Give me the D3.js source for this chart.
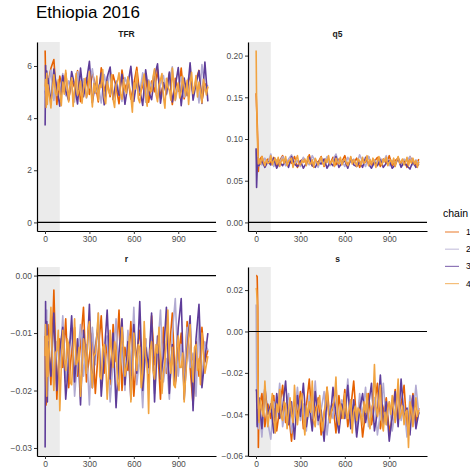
<!DOCTYPE html>
<html>
<head>
<meta charset="utf-8">
<script src="https://cdn.jsdelivr.net/npm/d3@7"></script>
<style>
  body { margin: 0; background: #fff; }
  svg { font-family: "Liberation Sans", Arial, sans-serif; }
</style>
</head>
<body>
<div id="dataviz"></div>
<script>
// iterations at which chains 1-3 are sampled
var iterations = [1, 4, 8, 12, 16, 20, 40, 60, 80, 100, 120, 140, 160, 180, 200, 220, 240, 260, 280, 300,
  320, 340, 360, 380, 400, 420, 440, 460, 480, 500, 520, 540, 560, 580, 600, 620, 640, 660, 680, 700,
  720, 740, 760, 780, 800, 820, 840, 860, 880, 900, 920, 940, 960, 980, 1000, 1020, 1040, 1060, 1080, 1100];
// chain 4 (drawn on top) is read on a finer grid: every 10 iterations
var iterationsFine = [1, 4, 8, 12, 16].concat(d3.range(20, 1101, 10));

var chainNames = ["1", "2", "3", "4"];
var chainColors = ["#E66101", "#B2ABD2", "#5E3C99", "#F1A340"];
var burnIn = 100;
var xTicks = [0, 300, 600, 900];

// TFR
var tfr1 = [6.59, 5.62, 5.05, 5.41, 4.83, 5.33, 5.91, 6.25, 4.52, 5.61,
  5.02, 5.73, 4.71, 5.44, 5.18, 5.82, 4.63, 5.12, 5.55, 4.91,
  5.74, 5.29, 4.62, 5.93, 5.04, 5.41, 4.82, 5.66, 5.21, 4.55,
  5.84, 5.09, 5.52, 4.73, 5.31, 5.95, 4.88, 5.24, 5.63, 4.61,
  5.42, 5.01, 5.86, 4.79, 5.34, 5.12, 5.71, 4.52, 5.53, 5.03,
  5.92, 4.74, 5.21, 5.64, 4.93, 5.45, 5.83, 4.66, 5.32, 5.14];
var tfr2 = [5.05, 4.92, 5.48, 4.71, 5.62, 5.11, 5.84, 4.68, 5.37, 5.02,
  5.71, 4.86, 5.43, 5.19, 4.62, 5.78, 5.06, 5.51, 4.77, 5.35,
  5.89, 4.95, 5.26, 4.58, 5.67, 5.13, 5.81, 4.72, 5.44, 5.08,
  4.64, 5.56, 5.22, 5.91, 4.83, 5.38, 4.99, 5.74, 4.61, 5.47,
  5.16, 5.85, 4.76, 5.29, 5.63, 4.89, 5.42, 5.97, 4.67, 5.24,
  5.58, 4.81, 5.33, 5.76, 4.94, 5.49, 4.58, 6.05, 5.12, 5.27];
var tfr3 = [3.72, 6.02, 4.65, 5.81, 4.91, 5.52, 4.58, 5.88, 5.14, 4.46,
  5.63, 5.04, 4.68, 5.79, 5.26, 4.54, 5.92, 4.82, 5.41, 6.18,
  4.59, 5.33, 4.98, 5.73, 4.51, 5.57, 5.96, 4.72, 5.38, 4.87,
  5.68, 4.53, 5.29, 5.99, 4.64, 5.46, 5.11, 4.49, 5.85, 5.02,
  4.71, 5.61, 6.08, 4.57, 5.36, 4.93, 5.77, 4.62, 5.22, 5.94,
  4.48, 5.54, 4.86, 6.12, 4.69, 5.31, 5.82, 4.56, 6.15, 4.64];
var tfr4 = [5.21, 5.48, 4.41, 5.72, 4.52,
  5.28, 4.85, 4.39, 5.12, 5.66, 4.95, 4.86, 5.47, 5.02, 4.48,
  5.38, 4.92, 5.83, 5.21, 4.62, 5.24, 5.55, 4.45, 5.09, 5.71,
  4.88, 5.08, 5.42, 4.57, 5.16, 5.52, 4.79, 4.96, 5.79, 5.11,
  4.43, 5.34, 4.98, 5.61, 4.68, 5.27, 5.18, 5.86, 4.81, 4.55,
  5.41, 5.03, 4.89, 5.67, 4.72, 4.41, 5.28, 5.44, 5.74, 4.93,
  4.73, 5.47, 5.09, 4.96, 5.58, 5.22, 4.84, 4.23, 5.36, 5.12,
  5.81, 4.75, 4.59, 5.15, 5.39, 5.69, 4.87, 4.46, 5.42, 5.06,
  5.02, 5.58, 5.89, 4.91, 4.63, 5.26, 5.47, 5.71, 4.82, 4.38,
  5.53, 5.19, 5.07, 4.69, 5.92, 5.33, 4.69, 5.08, 5.35, 4.77,
  5.02, 5.61, 5.22, 4.86, 5.45, 4.52, 5.29, 5.76, 4.94, 5.17,
  5.63, 4.81, 5.38, 5.04, 4.58, 5.49, 5.21, 4.89, 5.22];

// q5
var q5_1 = [0.155, 0.138, 0.121, 0.098, 0.061, 0.074, 0.079, 0.068, 0.076, 0.071,
  0.078, 0.067, 0.074, 0.080, 0.069, 0.075, 0.071, 0.079, 0.066, 0.073,
  0.077, 0.070, 0.081, 0.068, 0.074, 0.072, 0.079, 0.067, 0.075, 0.070,
  0.078, 0.069, 0.076, 0.073, 0.080, 0.068, 0.074, 0.071, 0.077, 0.066,
  0.075, 0.072, 0.079, 0.069, 0.073, 0.078, 0.067, 0.076, 0.071, 0.080,
  0.068, 0.074, 0.077, 0.070, 0.075, 0.066, 0.079, 0.072, 0.069, 0.076];
var q5_2 = [0.088, 0.076, 0.070, 0.079, 0.068, 0.073, 0.069, 0.077, 0.071, 0.082,
  0.067, 0.075, 0.072, 0.079, 0.068, 0.076, 0.081, 0.070, 0.074, 0.067,
  0.078, 0.072, 0.069, 0.080, 0.073, 0.066, 0.077, 0.071, 0.079, 0.068,
  0.075, 0.082, 0.070, 0.074, 0.067, 0.078, 0.072, 0.076, 0.069, 0.081,
  0.073, 0.067, 0.079, 0.071, 0.075, 0.069, 0.077, 0.072, 0.080, 0.068,
  0.074, 0.070, 0.078, 0.067, 0.076, 0.073, 0.079, 0.069, 0.075, 0.071];
var q5_3 = [0.089, 0.042, 0.063, 0.078, 0.071, 0.068, 0.074, 0.066, 0.073, 0.069,
  0.077, 0.065, 0.072, 0.068, 0.075, 0.066, 0.079, 0.070, 0.067, 0.074,
  0.065, 0.071, 0.078, 0.068, 0.066, 0.073, 0.070, 0.076, 0.065, 0.072,
  0.068, 0.079, 0.066, 0.071, 0.074, 0.065, 0.077, 0.069, 0.067, 0.073,
  0.066, 0.078, 0.070, 0.065, 0.072, 0.068, 0.075, 0.066, 0.071, 0.074,
  0.065, 0.069, 0.077, 0.066, 0.072, 0.068, 0.064, 0.073, 0.066, 0.070];
var q5_4 = [0.206, 0.148, 0.112, 0.084, 0.070,
  0.076, 0.070, 0.079, 0.073, 0.068, 0.075, 0.071, 0.072, 0.080, 0.069,
  0.074, 0.077, 0.070, 0.078, 0.067, 0.073, 0.076, 0.071, 0.079, 0.068,
  0.073, 0.075, 0.077, 0.066, 0.072, 0.075, 0.080, 0.070, 0.069, 0.074,
  0.072, 0.076, 0.068, 0.079, 0.071, 0.070, 0.075, 0.066, 0.077, 0.073,
  0.069, 0.074, 0.078, 0.071, 0.068, 0.076, 0.072, 0.080, 0.070, 0.073,
  0.075, 0.067, 0.077, 0.072, 0.070, 0.078, 0.069, 0.074, 0.076, 0.071,
  0.068, 0.073, 0.079, 0.070, 0.075, 0.072, 0.067, 0.076, 0.074, 0.069,
  0.078, 0.071, 0.073, 0.080, 0.068, 0.075, 0.070, 0.077, 0.072, 0.066,
  0.074, 0.079, 0.071, 0.069, 0.076, 0.073, 0.078, 0.068, 0.072, 0.075,
  0.070, 0.077, 0.067, 0.074, 0.079, 0.071, 0.073, 0.076, 0.069, 0.072,
  0.078, 0.068, 0.075, 0.071, 0.077, 0.070, 0.074, 0.066, 0.073];

// r
var r1 = [-0.0105, -0.0180, -0.0225, -0.0120, -0.0165, -0.0085, -0.0190, -0.0025, -0.0215, -0.0110,
  -0.0160, -0.0075, -0.0195, -0.0130, -0.0090, -0.0175, -0.0120, -0.0055, -0.0185, -0.0140,
  -0.0100, -0.0205, -0.0130, -0.0070, -0.0170, -0.0115, -0.0190, -0.0085, -0.0150, -0.0060,
  -0.0200, -0.0125, -0.0165, -0.0080, -0.0210, -0.0135, -0.0095, -0.0180, -0.0110, -0.0195,
  -0.0070, -0.0155, -0.0120, -0.0215, -0.0090, -0.0170, -0.0130, -0.0065, -0.0190, -0.0145,
  -0.0100, -0.0185, -0.0080, -0.0160, -0.0225, -0.0115, -0.0175, -0.0090, -0.0150, -0.0130];
var r2 = [-0.0125, -0.0100, -0.0175, -0.0060, -0.0200, -0.0135, -0.0080, -0.0190, -0.0115, -0.0160,
  -0.0070, -0.0185, -0.0130, -0.0095, -0.0210, -0.0145, -0.0085, -0.0175, -0.0120, -0.0225,
  -0.0090, -0.0155, -0.0065, -0.0195, -0.0135, -0.0105, -0.0220, -0.0150, -0.0075, -0.0180,
  -0.0125, -0.0200, -0.0095, -0.0165, -0.0055, -0.0190, -0.0140, -0.0230, -0.0110, -0.0170,
  -0.0085, -0.0205, -0.0130, -0.0060, -0.0185, -0.0145, -0.0215, -0.0100, -0.0040, -0.0175,
  -0.0120, -0.0195, -0.0090, -0.0160, -0.0135, -0.0210, -0.0075, -0.0180, -0.0115, -0.0130];
var r3 = [-0.0299, -0.0045, -0.0190, -0.0080, -0.0220, -0.0115, -0.0175, -0.0065, -0.0200, -0.0130,
  -0.0090, -0.0215, -0.0150, -0.0070, -0.0185, -0.0110, -0.0225, -0.0095, -0.0160, -0.0050,
  -0.0195, -0.0125, -0.0085, -0.0210, -0.0140, -0.0060, -0.0180, -0.0100, -0.0230, -0.0135,
  -0.0075, -0.0190, -0.0115, -0.0215, -0.0085, -0.0170, -0.0045, -0.0200, -0.0125, -0.0160,
  -0.0065, -0.0220, -0.0105, -0.0180, -0.0140, -0.0055, -0.0205, -0.0120, -0.0185, -0.0090,
  -0.0040, -0.0215, -0.0130, -0.0070, -0.0235, -0.0110, -0.0050, -0.0195, -0.0145, -0.0100];
var r4 = [-0.0140, -0.0085, -0.0160, -0.0210, -0.0105,
  -0.0175, -0.0120, -0.0055, -0.0150, -0.0200, -0.0135, -0.0130, -0.0095, -0.0235, -0.0160,
  -0.0095, -0.0145, -0.0165, -0.0110, -0.0120, -0.0185, -0.0190, -0.0140, -0.0075, -0.0155,
  -0.0150, -0.0125, -0.0210, -0.0165, -0.0110, -0.0130, -0.0170, -0.0095, -0.0080, -0.0160,
  -0.0195, -0.0140, -0.0135, -0.0105, -0.0065, -0.0175, -0.0180, -0.0125, -0.0120, -0.0150,
  -0.0215, -0.0170, -0.0095, -0.0135, -0.0160, -0.0115, -0.0130, -0.0185, -0.0200, -0.0140,
  -0.0090, -0.0125, -0.0175, -0.0160, -0.0145, -0.0105, -0.0220, -0.0175, -0.0100, -0.0135,
  -0.0165, -0.0120, -0.0125, -0.0195, -0.0170, -0.0080, -0.0140, -0.0155, -0.0240, -0.0130,
  -0.0115, -0.0165, -0.0180, -0.0120, -0.0135, -0.0090, -0.0150, -0.0205, -0.0170, -0.0150,
  -0.0115, -0.0060, -0.0145, -0.0170, -0.0125, -0.0190, -0.0195, -0.0130, -0.0105, -0.0160,
  -0.0160, -0.0135, -0.0220, -0.0175, -0.0140, -0.0110, -0.0085, -0.0150, -0.0185, -0.0125,
  -0.0120, -0.0165, -0.0145, -0.0190, -0.0100, -0.0135, -0.0170, -0.0155, -0.0140];

// s
var s1 = [0.0270, 0.0270, 0.0265, 0.0120, -0.0560, -0.0380, -0.0300, -0.0460, -0.0350, -0.0420,
  -0.0310, -0.0480, -0.0370, -0.0260, -0.0440, -0.0390, -0.0530, -0.0330, -0.0410, -0.0290,
  -0.0470, -0.0360, -0.0230, -0.0450, -0.0380, -0.0320, -0.0500, -0.0400, -0.0270, -0.0430,
  -0.0350, -0.0490, -0.0310, -0.0420, -0.0280, -0.0460, -0.0370, -0.0240, -0.0440, -0.0330,
  -0.0510, -0.0390, -0.0300, -0.0450, -0.0360, -0.0250, -0.0470, -0.0380, -0.0320, -0.0490,
  -0.0410, -0.0280, -0.0430, -0.0350, -0.0260, -0.0480, -0.0400, -0.0300, -0.0440, -0.0370];
var s2 = [0.0130, -0.0200, -0.0450, -0.0330, -0.0470, -0.0360, -0.0510, -0.0280, -0.0440, -0.0520,
  -0.0340, -0.0410, -0.0250, -0.0460, -0.0370, -0.0300, -0.0490, -0.0400, -0.0270, -0.0430,
  -0.0350, -0.0480, -0.0310, -0.0420, -0.0240, -0.0450, -0.0380, -0.0290, -0.0500, -0.0360,
  -0.0420, -0.0260, -0.0470, -0.0330, -0.0400, -0.0230, -0.0440, -0.0350, -0.0490, -0.0300,
  -0.0410, -0.0270, -0.0460, -0.0370, -0.0320, -0.0500, -0.0390, -0.0250, -0.0450, -0.0340,
  -0.0480, -0.0380, -0.0290, -0.0430, -0.0360, -0.0510, -0.0310, -0.0420, -0.0260, -0.0400];
var s3 = [-0.0280, -0.0290, -0.0460, -0.0380, -0.0430, -0.0320, -0.0470, -0.0270, -0.0400, -0.0350,
  -0.0490, -0.0300, -0.0420, -0.0370, -0.0240, -0.0450, -0.0340, -0.0520, -0.0310, -0.0410,
  -0.0250, -0.0460, -0.0360, -0.0480, -0.0290, -0.0430, -0.0380, -0.0530, -0.0320, -0.0440,
  -0.0270, -0.0400, -0.0490, -0.0350, -0.0420, -0.0260, -0.0470, -0.0330, -0.0510, -0.0380,
  -0.0300, -0.0440, -0.0360, -0.0250, -0.0480, -0.0390, -0.0210, -0.0450, -0.0340, -0.0530,
  -0.0410, -0.0290, -0.0460, -0.0230, -0.0420, -0.0370, -0.0500, -0.0310, -0.0470, -0.0390];
var s4 = [0.0210, 0.0200, 0.0150, -0.0200, -0.0350,
  -0.0440, -0.0330, -0.0380, -0.0410, -0.0240, -0.0360, -0.0460, -0.0390, -0.0370, -0.0300,
  -0.0420, -0.0490, -0.0350, -0.0390, -0.0280, -0.0410, -0.0430, -0.0340, -0.0350, -0.0470,
  -0.0380, -0.0320, -0.0400, -0.0440, -0.0260, -0.0370, -0.0450, -0.0380, -0.0330, -0.0300,
  -0.0420, -0.0500, -0.0360, -0.0410, -0.0340, -0.0390, -0.0240, -0.0430, -0.0460, -0.0370,
  -0.0350, -0.0310, -0.0420, -0.0480, -0.0390, -0.0360, -0.0270, -0.0400, -0.0440, -0.0380,
  -0.0360, -0.0330, -0.0220, -0.0410, -0.0450, -0.0350, -0.0380, -0.0420, -0.0300, -0.0400,
  -0.0420, -0.0370, -0.0330, -0.0490, -0.0390, -0.0360, -0.0430, -0.0370, -0.0380, -0.0410,
  -0.0450, -0.0340, -0.0390, -0.0300, -0.0420, -0.0470, -0.0380, -0.0350, -0.0160, -0.0360,
  -0.0410, -0.0330, -0.0260, -0.0440, -0.0480, -0.0390, -0.0450, -0.0370, -0.0340, -0.0400,
  -0.0310, -0.0380, -0.0440, -0.0350, -0.0230, -0.0420, -0.0400, -0.0360, -0.0450, -0.0390,
  -0.0380, -0.0560, -0.0340, -0.0370, -0.0460, -0.0390, -0.0320, -0.0410, -0.0380];

var yTicksTFR = [0, 2, 4, 6];
var yTicksQ5 = [0, 0.05, 0.10, 0.15, 0.20];
var yTicksR = [0, -0.01, -0.02, -0.03];
var yTicksS = [0.02, 0, -0.02, -0.04, -0.06];

buildChart();

function buildChart(){
    d3.selectAll('svg').remove();

    var W = 470, H = 472;
    var svg = d3.select("#dataviz")
    .append("svg")
        .attr("width", W)
        .attr("height", H);

    // title
    svg.append("text")
        .attr("x", 36)
        .attr("y", 18)
        .text("Ethiopia 2016")
        .style("font-size", "17px")
        .style("fill", "#000");

    var chainIters = [iterations, iterations, iterations, iterationsFine];

    // facet layout
    var panels = [
        {name: "TFR", chains: [tfr1, tfr2, tfr3, tfr4], ticks: yTicksTFR, fmt: d3.format("d"), left: 37, top: 42},
        {name: "q5", chains: [q5_1, q5_2, q5_3, q5_4], ticks: yTicksQ5, fmt: d3.format(".2f"), left: 248, top: 42},
        {name: "r", chains: [r1, r2, r3, r4], ticks: yTicksR, fmt: d3.format(".2f"), left: 37, top: 267},
        {name: "s", chains: [s1, s2, s3, s4], ticks: yTicksS, fmt: d3.format(".2f"), left: 248, top: 267}
    ];
    var pw = 179, ph = 189;

    var xExt = d3.extent(iterations);
    var xPad = (xExt[1] - xExt[0]) * 0.05;
    var x = d3.scaleLinear()
        .domain([xExt[0] - xPad, xExt[1] + xPad])
        .range([0, pw]);

    panels.forEach(function(p){
        var g = svg.append("g")
            .attr("transform", "translate(" + p.left + "," + p.top + ")");

        var all = [0];
        p.chains.forEach(function(c){ all = all.concat(c); });
        var yExt = d3.extent(all);
        var yPad = (yExt[1] - yExt[0]) * 0.05;
        var y = d3.scaleLinear()
            .domain([yExt[0] - yPad, yExt[1] + yPad])
            .range([ph, 0]);

        // burn-in shading
        g.append("rect")
            .attr("x", 0)
            .attr("y", 0)
            .attr("width", x(burnIn))
            .attr("height", ph)
            .attr("fill", "#EBEBEB");

        // chains
        var line = d3.line()
            .x(function(d){ return x(d[0]); })
            .y(function(d){ return y(d[1]); });

        p.chains.forEach(function(c, i){
            var its = chainIters[i];
            var pts = c.map(function(v, k){ return [its[k], v]; })
                .filter(function(d){ return d[0] !== undefined; });
            g.append("path")
                .datum(pts)
                .attr("d", line)
                .attr("fill", "none")
                .attr("stroke", chainColors[i])
                .attr("stroke-width", 1.6)
                .attr("stroke-linejoin", "round");
        });

        // zero line
        g.append("line")
            .attr("x1", 0)
            .attr("x2", pw)
            .attr("y1", y(0))
            .attr("y2", y(0))
            .attr("stroke", "#000")
            .attr("stroke-width", 1.1);

        // axes
        var ya = g.append("g")
            .call(d3.axisLeft(y).tickValues(p.ticks).tickFormat(p.fmt).tickSize(3).tickSizeOuter(0).tickPadding(2));
        var xa = g.append("g")
            .attr("transform", "translate(0," + ph + ")")
            .call(d3.axisBottom(x).tickValues(xTicks).tickFormat(d3.format("d")).tickSize(3).tickSizeOuter(0).tickPadding(2));

        [ya, xa].forEach(function(a){
            a.select(".domain").attr("stroke", "#000").attr("stroke-width", 1.2);
            a.selectAll(".tick line").attr("stroke", "#333").attr("stroke-width", 1);
            a.selectAll(".tick text")
                .style("font-family", "Liberation Sans, Arial, sans-serif")
                .style("font-size", "8.5px")
                .style("fill", "#4D4D4D");
        });

        // strip label
        g.append("text")
            .attr("x", pw / 2)
            .attr("y", -5)
            .text(p.name)
            .style("text-anchor", "middle")
            .style("font-size", "8.5px")
            .style("font-weight", "bold")
            .style("fill", "#1a1a1a");
    });

    // legend
    var lg = svg.append("g").attr("transform", "translate(443,0)");
    lg.append("text")
        .attr("x", 0)
        .attr("y", 217)
        .text("chain")
        .style("font-size", "10.5px")
        .style("fill", "#000");

    chainNames.forEach(function(n, i){
        var yy = 232 + i * 17.2;
        lg.append("line")
            .attr("x1", 2).attr("x2", 16)
            .attr("y1", yy).attr("y2", yy)
            .attr("stroke", chainColors[i])
            .attr("stroke-opacity", 0.7)
            .attr("stroke-width", 1.2);
        lg.append("text")
            .attr("x", 23)
            .attr("y", yy + 3)
            .text(n)
            .style("font-size", "8.5px")
            .style("fill", "#000");
    });
}
</script>
</body>
</html>
